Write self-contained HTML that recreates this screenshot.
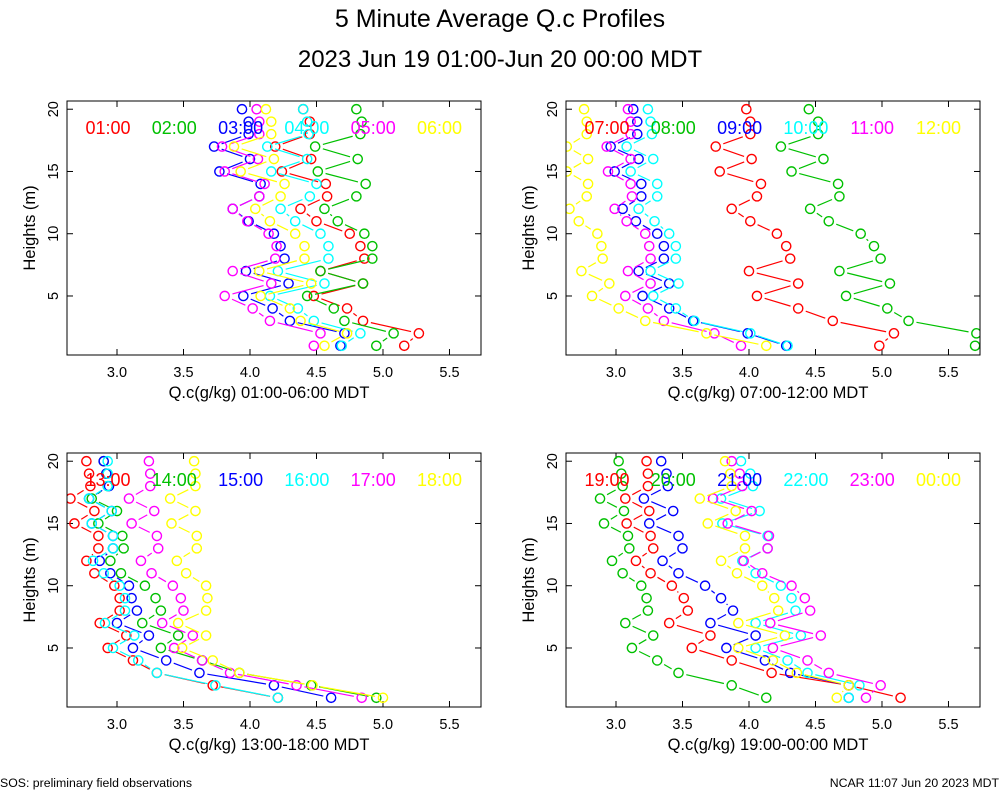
<!DOCTYPE html>
<html><head><meta charset="utf-8"><style>
html,body{margin:0;padding:0;background:#fff;}
svg{display:block;font-family:"Liberation Sans",sans-serif;}
</style></head><body>
<svg id="chart" width="1000" height="800" viewBox="0 0 1000 800">
<text x="500" y="27" font-size="25" text-anchor="middle">5 Minute Average Q.c Profiles</text>
<text x="500" y="67" font-size="24" text-anchor="middle">2023 Jun 19 01:00-Jun 20 00:00 MDT</text>
<text x="0" y="787" font-size="12.3">SOS: preliminary field observations</text>
<text x="999" y="787" font-size="12.3" text-anchor="end">NCAR 11:07 Jun 20 2023 MDT</text>
</svg>
<script>
const heights=[1,2,3,4,5,6,7,8,9,10,11,12,13,14,15,16,17,18,19,20];
const xTicks=[3.0,3.5,4.0,4.5,5.0,5.5];
const yTicks=[5,10,15,20];
const colors=["#ff0000","#00c000","#0000ff","#00ffff","#ff00ff","#ffff00"];
const labelsP1=["01:00","02:00","03:00","04:00","05:00","06:00"];
const labelsP2=["07:00","08:00","09:00","10:00","11:00","12:00"];
const labelsP3=["13:00","14:00","15:00","16:00","17:00","18:00"];
const labelsP4=["19:00","20:00","21:00","22:00","23:00","00:00"];
const titles=["Q.c(g/kg) 01:00-06:00 MDT","Q.c(g/kg) 07:00-12:00 MDT","Q.c(g/kg) 13:00-18:00 MDT","Q.c(g/kg) 19:00-00:00 MDT"];
const s0100=[5.16,5.27,4.85,4.73,4.48,4.85,4.53,4.86,4.83,4.75,4.50,4.38,4.58,4.57,4.24,4.46,4.19,4.45,4.45,4.40];
const s0200=[4.95,5.08,4.71,4.63,4.43,4.85,4.53,4.92,4.92,4.86,4.66,4.56,4.80,4.87,4.51,4.81,4.49,4.83,4.84,4.80];
const s0300=[4.68,4.71,4.30,4.17,3.95,4.29,3.97,4.26,4.23,4.18,3.99,3.87,4.07,4.08,3.77,4.00,3.73,3.99,3.99,3.94];
const s0400=[4.69,4.83,4.48,4.36,4.15,4.56,4.21,4.59,4.59,4.53,4.34,4.23,4.45,4.50,4.16,4.43,4.13,4.44,4.43,4.40];
const s0500=[4.48,4.53,4.15,4.02,3.81,4.16,3.87,4.19,4.20,4.14,3.98,3.87,4.07,4.11,3.81,4.06,3.79,4.07,4.07,4.05];
const s0600=[4.56,4.73,4.38,4.30,4.08,4.46,4.07,4.41,4.41,4.34,4.15,4.04,4.23,4.26,3.93,4.18,3.88,4.16,4.16,4.12];
const s0700=[4.98,5.09,4.63,4.37,4.06,4.37,4.00,4.31,4.28,4.21,4.01,3.87,4.06,4.09,3.78,4.02,3.75,4.01,4.01,3.98];
const s0800=[5.70,5.71,5.20,5.04,4.73,5.06,4.68,4.99,4.94,4.84,4.60,4.46,4.68,4.67,4.32,4.56,4.24,4.52,4.52,4.45];
const s0900=[4.28,3.99,3.58,3.40,3.20,3.40,3.17,3.36,3.36,3.31,3.15,3.05,3.19,3.19,2.99,3.17,2.96,3.16,3.16,3.13];
const s1000=[4.29,4.01,3.59,3.45,3.28,3.47,3.26,3.45,3.45,3.40,3.29,3.17,3.31,3.31,3.11,3.28,3.08,3.27,3.26,3.24];
const s1100=[3.94,3.74,3.36,3.24,3.07,3.26,3.09,3.26,3.25,3.22,3.08,2.99,3.12,3.11,2.94,3.11,2.93,3.11,3.11,3.09];
const s1200=[4.13,3.68,3.22,3.02,2.82,2.95,2.74,2.90,2.89,2.86,2.72,2.65,2.78,2.79,2.63,2.79,2.63,2.78,2.78,2.76];
const s1300=[4.21,3.72,3.30,3.12,2.93,3.07,2.87,3.02,3.02,2.98,2.83,2.77,2.86,2.86,2.68,2.83,2.65,2.80,2.79,2.77];
const s1400=[4.95,4.46,3.92,3.64,3.33,3.46,3.19,3.33,3.29,3.21,3.03,2.95,3.05,3.04,2.86,3.00,2.81,2.93,2.92,2.90];
const s1500=[4.61,4.18,3.62,3.37,3.12,3.24,3.00,3.15,3.11,3.09,2.95,2.87,2.97,2.97,2.81,2.96,2.79,2.94,2.92,2.90];
const s1600=[4.21,3.74,3.30,3.16,2.97,3.13,2.91,3.06,3.06,3.02,2.90,2.82,2.97,2.97,2.81,2.96,2.79,2.93,2.93,2.93];
const s1700=[4.84,4.35,3.85,3.64,3.43,3.57,3.34,3.50,3.48,3.42,3.26,3.18,3.31,3.30,3.11,3.28,3.09,3.25,3.25,3.24];
const s1800=[5.00,4.47,3.92,3.72,3.49,3.67,3.46,3.67,3.68,3.67,3.52,3.45,3.60,3.60,3.41,3.59,3.40,3.59,3.59,3.58];
const s1900=[5.14,4.75,4.17,3.87,3.57,3.71,3.40,3.54,3.51,3.42,3.26,3.15,3.28,3.26,3.08,3.25,3.07,3.24,3.24,3.23];
const s2000=[4.13,3.87,3.47,3.31,3.12,3.28,3.07,3.24,3.23,3.19,3.05,2.97,3.10,3.09,2.91,3.06,2.88,3.05,3.04,3.02];
const s2100=[4.75,4.75,4.31,4.12,3.83,4.05,3.71,3.88,3.79,3.67,3.47,3.35,3.50,3.47,3.25,3.43,3.21,3.39,3.38,3.34];
const s2200=[4.75,4.83,4.44,4.29,4.05,4.39,4.05,4.35,4.32,4.24,4.05,3.95,4.14,4.14,3.80,4.08,3.79,4.03,4.01,3.94];
const s2300=[4.88,4.99,4.60,4.44,4.18,4.54,4.16,4.46,4.42,4.32,4.10,3.96,4.14,4.15,3.84,4.02,3.73,3.95,3.93,3.87];
const s0000=[4.66,4.75,4.36,4.18,3.92,4.27,3.92,4.22,4.19,4.10,3.91,3.79,3.97,3.97,3.69,3.90,3.63,3.87,3.86,3.82];

const panelSeries=[[s0100,s0200,s0300,s0400,s0500,s0600],[s0700,s0800,s0900,s1000,s1100,s1200],[s1300,s1400,s1500,s1600,s1700,s1800],[s1900,s2000,s2100,s2200,s2300,s0000]];
const panelLabels=[labelsP1,labelsP2,labelsP3,labelsP4];
const NS="http://www.w3.org/2000/svg";
const svg=document.getElementById("chart");
const PW=414,PH=254,XMIN=2.624,XMAX=5.737,YMIN=0.26,YMAX=20.66;
const origins=[[67,101],[566,101],[67,453],[566,453]];
function mk(tag,attrs,parent){const e=document.createElementNS(NS,tag);for(const k in attrs)e.setAttribute(k,attrs[k]);(parent||svg).appendChild(e);return e;}

origins.forEach((o,pi)=>{
  const L=o[0],T=o[1];
  const xs=v=>L+(v-XMIN)/(XMAX-XMIN)*PW;
  const ys=h=>T+(YMAX-h)/(YMAX-YMIN)*PH;
  const g=mk("g",{});
  
  
  const clipId="clip"+pi;
  const cp=mk("clipPath",{id:clipId},g);
  mk("rect",{x:L,y:T,width:PW,height:PH},cp);
  xTicks.forEach(t=>{
    const x=xs(t);
    mk("line",{x1:x,y1:T+PH,x2:x,y2:T+PH-6,stroke:"#000","stroke-width":1},g);
    mk("line",{x1:x,y1:T,x2:x,y2:T+6,stroke:"#000","stroke-width":1},g);
    const tl=mk("text",{x:x,y:T+PH+22,"font-size":14.5,"text-anchor":"middle"},g);
    tl.textContent=t.toFixed(1);
    
    
  });
  yTicks.forEach(t=>{
    const y=ys(t);
    mk("line",{x1:L,y1:y,x2:L+6,y2:y,stroke:"#000","stroke-width":1},g);
    mk("line",{x1:L+PW,y1:y,x2:L+PW-6,y2:y,stroke:"#000","stroke-width":1},g);
    const tl=mk("text",{x:L-9,y:y,"font-size":14.5,"text-anchor":"middle",transform:"rotate(-90 "+(L-9)+" "+y+")"},g);
    tl.textContent=t;
    
    
  });
  const yt=mk("text",{x:L-32,y:T+PH/2,"font-size":16.5,"text-anchor":"middle",transform:"rotate(-90 "+(L-32)+" "+(T+PH/2)+")"},g);
  yt.textContent="Heights (m)";
  
  
  const xt=mk("text",{x:L+PW/2-5,y:T+PH+43,"font-size":16.5,"text-anchor":"middle"},g);
  xt.textContent=titles[pi];
  
  
  const sg=mk("g",{"clip-path":"url(#"+clipId+")"},g);
  panelSeries[pi].forEach((vals,si)=>{
    const c=colors[si];
    const ser=mk("g",{},sg);
    
    
    for(let i=0;i<vals.length-1;i++){
      const x1=xs(vals[i]),y1=ys(heights[i]),x2=xs(vals[i+1]),y2=ys(heights[i+1]);
      const dx=x2-x1,dy=y2-y1,len=Math.hypot(dx,dy),gap=8;
      if(len>2*gap+1){
        const ux=dx/len,uy=dy/len;
        const seg=mk("line",{x1:x1+ux*gap,y1:y1+uy*gap,x2:x2-ux*gap,y2:y2-uy*gap,stroke:c,"stroke-width":1.2},ser);
        
        
      }
    }
    vals.forEach((v,i)=>{
      const pt=mk("circle",{cx:xs(v),cy:ys(heights[i]),r:4.6,fill:"none",stroke:c,"stroke-width":1.4},ser);
      
      
    });
  });
  panelLabels[pi].forEach((lab,si)=>{
    const lt=mk("text",{x:L+41+si*66.3,y:T+33,"font-size":18,"text-anchor":"middle",fill:colors[si]},g);
    lt.textContent=lab;
    
    
  });
  const fr=mk("rect",{x:L,y:T,width:PW,height:PH,fill:"none",stroke:"#000","stroke-width":1},g);
  
  
});
</script>
</body></html>
